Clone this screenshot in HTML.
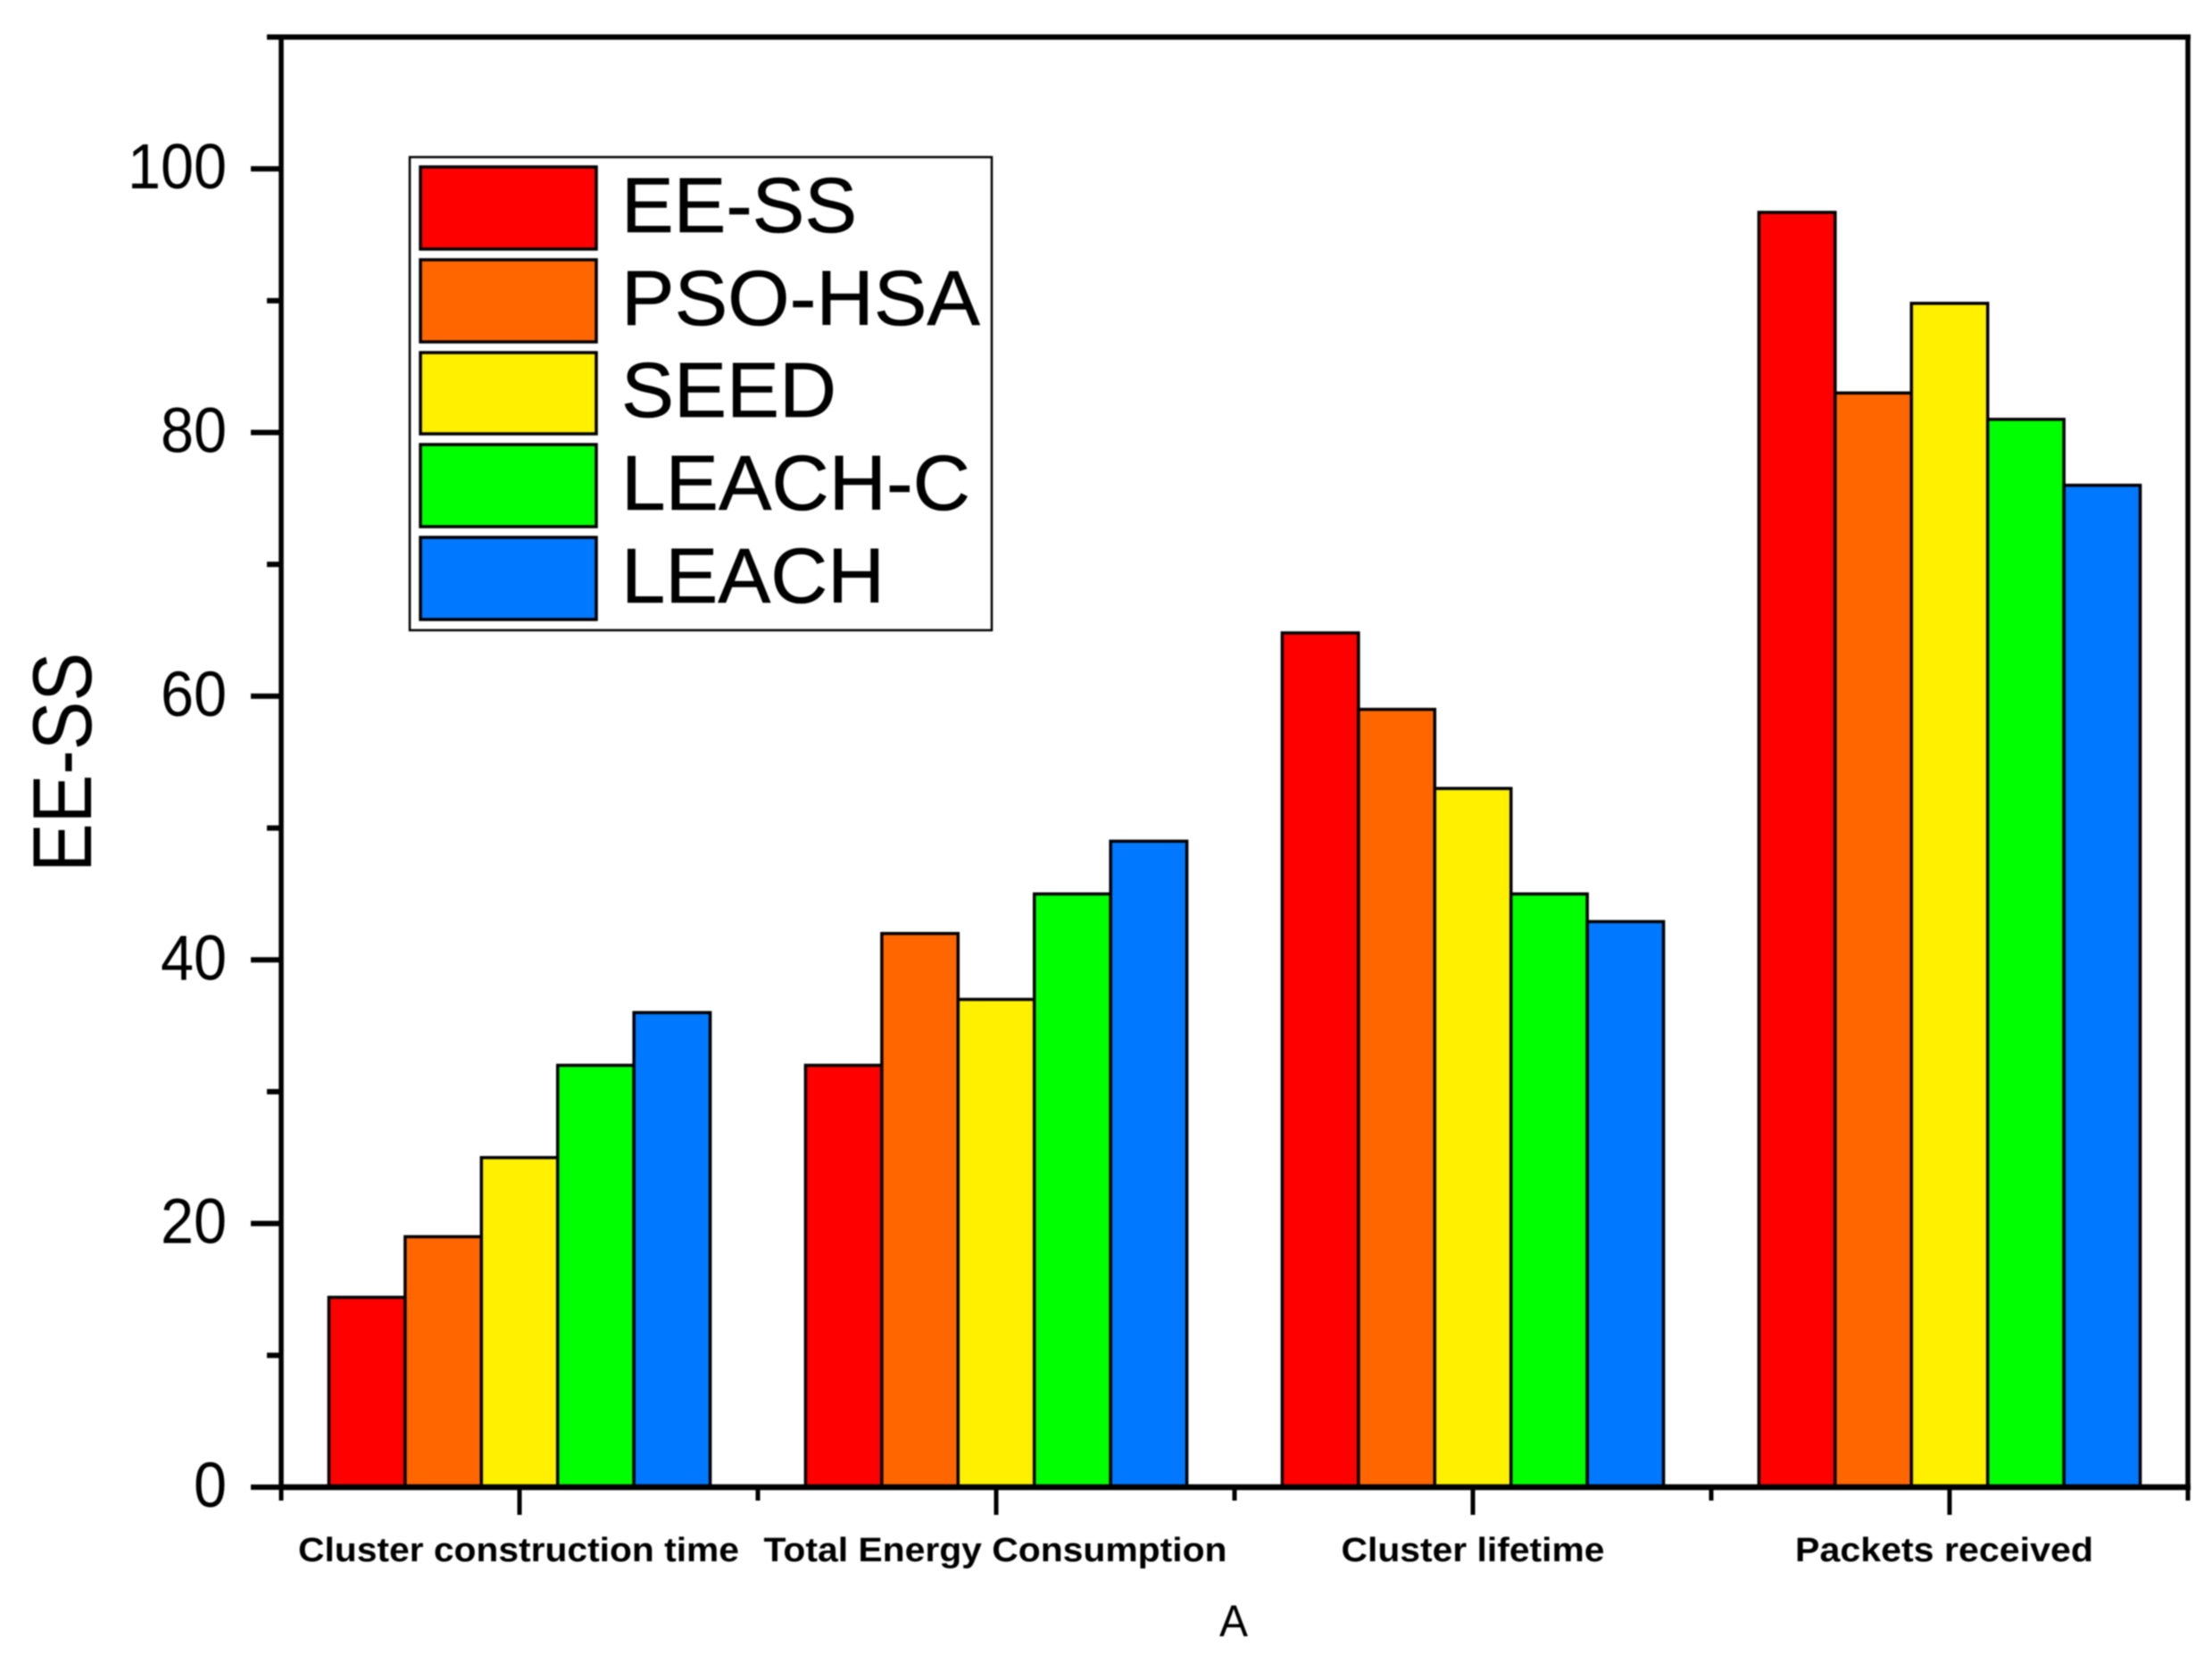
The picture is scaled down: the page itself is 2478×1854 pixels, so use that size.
<!DOCTYPE html>
<html lang="en">
<head>
<meta charset="utf-8">
<title>EE-SS grouped bar chart</title>
<style>
  html, body { margin: 0; padding: 0; background: #fff; }
  body { width: 2478px; height: 1854px; overflow: hidden; }
  svg { display: block; font-family: "Liberation Sans", Arial, sans-serif; filter: blur(0.7px); }
</style>
</head>
<body>
<svg id="chart" xmlns="http://www.w3.org/2000/svg" width="2478" height="1854" viewBox="0 0 2478 1854">
  <rect x="0" y="0" width="2478" height="1854" fill="#ffffff"/>
  <g id="bars"></g>
  <g id="axes"></g>
  <text transform="translate(102,977) rotate(-90)" font-size="94" textLength="246" lengthAdjust="spacingAndGlyphs" fill="#000">EE-SS</text>
  <text x="1382" y="1833" font-size="50" text-anchor="middle" textLength="32" lengthAdjust="spacingAndGlyphs" fill="#000">A</text>
  <g>
    <rect x="459" y="176" width="652" height="530" fill="#fff" stroke="#000" stroke-width="2.5"/>
    <g>
      <rect x="471" y="187" width="197" height="92" fill="#ff0000" stroke="#000" stroke-width="3.5"/>
      <text x="696" y="260" font-size="87" textLength="264" lengthAdjust="spacingAndGlyphs" stroke="#000" stroke-width="0.6">EE-SS</text>
    </g>
    <g>
      <rect x="471" y="291" width="197" height="92" fill="#ff6600" stroke="#000" stroke-width="3.5"/>
      <text x="696" y="364" font-size="87" textLength="402" lengthAdjust="spacingAndGlyphs" stroke="#000" stroke-width="0.6">PSO-HSA</text>
    </g>
    <g>
      <rect x="471" y="395" width="197" height="91" fill="#fff000" stroke="#000" stroke-width="3.5"/>
      <text x="696" y="467" font-size="87" textLength="241" lengthAdjust="spacingAndGlyphs" stroke="#000" stroke-width="0.6">SEED</text>
    </g>
    <g>
      <rect x="471" y="498" width="197" height="92" fill="#00ff00" stroke="#000" stroke-width="3.5"/>
      <text x="696" y="571" font-size="87" textLength="391" lengthAdjust="spacingAndGlyphs" stroke="#000" stroke-width="0.6">LEACH-C</text>
    </g>
    <g>
      <rect x="471" y="602" width="197" height="92" fill="#0078ff" stroke="#000" stroke-width="3.5"/>
      <text x="696" y="675" font-size="87" textLength="295" lengthAdjust="spacingAndGlyphs" stroke="#000" stroke-width="0.6">LEACH</text>
    </g>
  </g>
</svg>
<script>
const categories = ["Cluster construction time", "Total Energy Consumption", "Cluster lifetime", "Packets received"];
const seriesNames = ["EE-SS", "PSO-HSA", "SEED", "LEACH-C", "LEACH"];
const eeSs = [14.4, 32, 64.8, 96.7];
const psoHsa = [19, 42, 59, 83];
const seed = [25, 37, 53, 89.8];
const leachC = [32, 45, 45, 81];
const leach = [36, 49, 42.9, 76];
const yMajorTicks = [0, 20, 40, 60, 80, 100];
const yMinorTicks = [10, 30, 50, 70, 90, 110];

const seriesValues = [eeSs, psoHsa, seed, leachC, leach];
const seriesColors = ["#ff0000", "#ff6600", "#fff000", "#00ff00", "#0078ff"];
const categoryLabelWidths = [494, 519, 295, 334];
const categoryLabelOffsets = [-1, -1, 0, -6];

const NS = "http://www.w3.org/2000/svg";
const plot = { left: 315, right: 2451, top: 41.5, bottom: 1666, yMax: 110 };
const xDomain = [0.5, categories.length + 0.5];

function xScale(v) {
  return plot.left + (v - xDomain[0]) / (xDomain[1] - xDomain[0]) * (plot.right - plot.left);
}
function yScale(v) {
  return plot.bottom - v / plot.yMax * (plot.bottom - plot.top);
}
function slug(s) {
  return s.toLowerCase().replace(/[^a-z0-9]+/g, "-");
}
function make(parent, tag, attrs) {
  const el = document.createElementNS(NS, tag);
  for (const k in attrs) el.setAttribute(k, attrs[k]);
  parent.appendChild(el);
  return el;
}

const barsLayer = document.getElementById("bars");
const axesLayer = document.getElementById("axes");
const groupFraction = 0.8;
const barWidth = (xScale(1) - xScale(0)) * groupFraction / seriesNames.length;

seriesNames.forEach(function (name, s) {
  categories.forEach(function (cat, c) {
    const groupLeft = xScale(c + 1) - barWidth * seriesNames.length / 2;
    const top = yScale(seriesValues[s][c]);
    const bar = make(barsLayer, "rect", {
      x: groupLeft + s * barWidth,
      y: top,
      width: barWidth,
      height: plot.bottom - top,
      fill: seriesColors[s],
      stroke: "#000",
      "stroke-width": 3.5
    });
    
    
  });
});

function axisLine(name, x1, y1, x2, y2, w) {
  const l = make(axesLayer, "line", { x1: x1, y1: y1, x2: x2, y2: y2, stroke: "#000", "stroke-width": w });
  
  
}

axisLine("left-axis-line", plot.left, plot.top - 3, plot.left, plot.bottom + 3, 5.5);
axisLine("right-axis-line", plot.right, plot.top - 3, plot.right, plot.bottom + 3, 5.5);
axisLine("top-axis-line", plot.left, plot.top, plot.right + 3, plot.top, 6);
axisLine("bottom-axis-line", plot.left, plot.bottom, plot.right + 3, plot.bottom, 6.5);

yMajorTicks.forEach(function (t) {
  axisLine("y-major-tick-" + t, plot.left - 34, yScale(t), plot.left, yScale(t), 6);
  const text = String(t);
  const label = make(axesLayer, "text", {
    x: 254,
    y: yScale(t) + 22,
    "font-size": 71,
    "text-anchor": "end",
    textLength: 37 * text.length,
    lengthAdjust: "spacingAndGlyphs",
    fill: "#000"
  });
  label.textContent = text;
  
  
});
yMinorTicks.forEach(function (t) {
  axisLine("y-minor-tick-" + t, plot.left - 16, yScale(t), plot.left, yScale(t), 6);
});

categories.forEach(function (cat, c) {
  const cx = xScale(c + 1);
  axisLine("x-major-tick-" + slug(cat), cx, plot.bottom, cx, plot.bottom + 31, 5);
  const label = make(axesLayer, "text", {
    x: cx + categoryLabelOffsets[c],
    y: 1749,
    "font-size": 38,
    "font-weight": "bold",
    "text-anchor": "middle",
    textLength: categoryLabelWidths[c],
    lengthAdjust: "spacingAndGlyphs",
    fill: "#000"
  });
  label.textContent = cat;
  
  
});
for (let i = 0; i <= categories.length; i++) {
  const mx = xScale(i + 0.5);
  axisLine("x-minor-tick-" + i, mx, plot.bottom, mx, plot.bottom + 15, 5);
}
</script>
</body>
</html>
